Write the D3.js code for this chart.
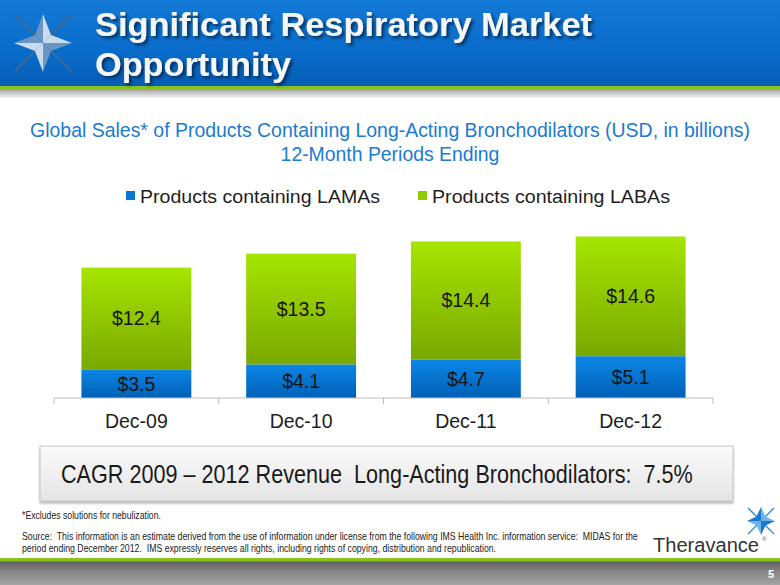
<!DOCTYPE html>
<html>
<head>
<meta charset="utf-8">
<script src="https://cdn.jsdelivr.net/npm/d3@7"></script>
<style>
  html, body { margin: 0; padding: 0; background: #fff; }
  svg { display: block; font-family: "Liberation Sans", Arial, sans-serif; }
</style>
</head>
<body>
<svg id="chart" width="780" height="585"></svg>
<script>
// ---- data ----
const categories = ["Dec-09", "Dec-10", "Dec-11", "Dec-12"];
const lamaValues = [3.5, 4.1, 4.7, 5.1];
const labaValues = [12.4, 13.5, 14.4, 14.6];
const seriesNames = ["Products containing LAMAs", "Products containing LABAs"];
const titleLines = ["Significant Respiratory Market", "Opportunity"];
const subtitleLines = ["Global Sales* of Products Containing Long-Acting Bronchodilators (USD, in billions)", "12-Month Periods Ending"];
const cagrText = "CAGR 2009 \u2013 2012 Revenue  Long-Acting Bronchodilators:  7.5%";
const footnote = "*Excludes solutions for nebulization.";
const sourceLines = [
  "Source:  This information is an estimate derived from the use of information under license from the following IMS Health Inc. information service:  MIDAS for the",
  "period ending December 2012.  IMS expressly reserves all rights, including rights of copying, distribution and republication."
];

const svg = d3.select("#chart");
const defs = svg.append("defs");

// fit a text to a target width: shrink the face horizontally (via smaller size + vertical scale)
// when too wide, or stretch slightly with textLength when narrower
function fit(sel, target) {
  sel.each(function (d, i) {
    const node = this;
    const t = typeof target === "function" ? target(d, i) : target;
    if (!t) return;
    const fs = parseFloat(node.getAttribute("font-size"));
    const w = node.getComputedTextLength();
    if (w > t) {
      const nfs = fs * t / w;
      const x0 = parseFloat(node.getAttribute("x")), y0 = parseFloat(node.getAttribute("y"));
      node.setAttribute("font-size", nfs);
      node.setAttribute("x", 0);
      node.setAttribute("y", 0);
      node.setAttribute("transform", `translate(${x0},${y0}) scale(1,${fs / nfs})`);
    } else {
      node.setAttribute("textLength", t);
      node.setAttribute("lengthAdjust", "spacingAndGlyphs");
    }
  });
  return sel;
}

function vGrad(id, stops) {
  const g = defs.append("linearGradient").attr("id", id).attr("x1", 0).attr("y1", 0).attr("x2", 0).attr("y2", 1);
  stops.forEach(([o, c]) => g.append("stop").attr("offset", o).attr("stop-color", c));
}
vGrad("hdr", [[0, "#1379d6"], [0.6, "#0a6cca"], [1, "#055db6"]]);
vGrad("hdrShadow", [[0, "#a0a0a0"], [1, "#ffffff"]]);
vGrad("ftr", [[0, "#5e5e5e"], [0.5, "#8a8a8a"], [1, "#a4a4a4"]]);
vGrad("green", [[0, "#a6e500"], [1, "#7aa800"]]);
vGrad("blue", [[0, "#0c86e6"], [1, "#0060b6"]]);
vGrad("box", [[0, "#fbfbfb"], [1, "#e4e4e4"]]);

const sh = defs.append("filter").attr("id", "tshadow").attr("x", -0.1).attr("y", -0.3).attr("width", 1.2).attr("height", 1.6);
sh.append("feDropShadow").attr("dx", 2.5).attr("dy", 2.5).attr("stdDeviation", 1.6)
  .attr("flood-color", "#00264d").attr("flood-opacity", 0.8);
const bs = defs.append("filter").attr("id", "bshadow").attr("x", -0.05).attr("y", -0.2).attr("width", 1.1).attr("height", 1.5);
bs.append("feDropShadow").attr("dx", 0).attr("dy", 2).attr("stdDeviation", 1.2)
  .attr("flood-color", "#000").attr("flood-opacity", 0.3);

// ---- header ----
svg.append("rect").attr("x", 0).attr("y", 0).attr("width", 780).attr("height", 87).attr("fill", "url(#hdr)");
svg.append("rect").attr("x", 0).attr("y", 89).attr("width", 780).attr("height", 10).attr("fill", "url(#hdrShadow)");
svg.append("rect").attr("x", 0).attr("y", 86).attr("width", 780).attr("height", 3.5).attr("fill", "#8cc21c");

// star logo helper
function star(cx, cy, R, d, lineLen, lineColor, light, dark, lw) {
  const g = svg.append("g");
  [[-1, -1, 1, 1], [1, -1, -1, 1]].forEach(([a, b, c, e]) => {
    g.append("line").attr("x1", cx + a * lineLen).attr("y1", cy + b * lineLen)
      .attr("x2", cx + c * lineLen).attr("y2", cy + e * lineLen)
      .attr("stroke", lineColor).attr("stroke-width", lw);
  });
  const dirs = [[0, -1], [1, 0], [0, 1], [-1, 0]];
  dirs.forEach(([dx, dy], i) => {
    const tip = [cx + dx * R, cy + dy * R];
    const px = -dy, py = dx;
    const diagA = [cx + (dx + px) * d, cy + (dy + py) * d];
    const diagB = [cx + (dx - px) * d, cy + (dy - py) * d];
    g.append("path").attr("d", `M${cx},${cy}L${tip[0]},${tip[1]}L${diagA[0]},${diagA[1]}Z`)
      .attr("fill", i % 2 ? dark : light);
    g.append("path").attr("d", `M${cx},${cy}L${tip[0]},${tip[1]}L${diagB[0]},${diagB[1]}Z`)
      .attr("fill", i % 2 ? light : dark);
  });
  return g;
}
star(43, 43, 29, 8, 28, "#3d6a93", "#c9dcef", "#6b96c4", 2.2);

// title
fit(svg.append("g").attr("filter", "url(#tshadow)")
  .selectAll("text").data(titleLines).join("text")
  .attr("x", 95).attr("y", (d, i) => 36 + i * 40)
  .attr("font-size", 34).attr("font-weight", "bold").attr("fill", "#f4f6f8")
  .text(d => d), (d, i) => i === 0 ? 497 : 196);

// ---- subtitle ----
fit(svg.append("g").selectAll("text").data(subtitleLines).join("text")
  .attr("x", 390).attr("y", (d, i) => 137 + i * 24)
  .attr("text-anchor", "middle").attr("font-size", 19.5).attr("fill", "#1b7bd0")
  .text(d => d), (d, i) => i === 0 ? 720 : 219);

// ---- legend ----
const legendX = [126, 418];
const lg = svg.append("g").selectAll("g").data(seriesNames).join("g")
  .attr("transform", (d, i) => `translate(${legendX[i]},0)`);
lg.append("rect").attr("x", 0).attr("y", 191).attr("width", 9).attr("height", 9)
  .attr("fill", (d, i) => i === 0 ? "#0b74d4" : "#8fcc00");
fit(lg.append("text").attr("x", 14).attr("y", 202.5).attr("font-size", 18).attr("fill", "#1e1e1e")
  .text(d => d), (d, i) => i === 0 ? 240 : 238);

// ---- chart ----
const x = d3.scaleBand().domain(categories).range([54, 713]).paddingInner(0.333).paddingOuter(0.1665);
const y = d3.scaleLinear().domain([0, 20]).range([398, 234]);

const rows = categories.map((c, i) => ({ cat: c, lama: lamaValues[i], laba: labaValues[i] }));
const stack = d3.stack().keys(["lama", "laba"])(rows);
const fills = ["url(#blue)", "url(#green)"];

const layers = svg.append("g").selectAll("g").data(stack).join("g");
layers.selectAll("rect").data((s, si) => s.map(p => ({ p, si }))).join("rect")
  .attr("x", d => x(d.p.data.cat))
  .attr("width", x.bandwidth())
  .attr("y", d => y(d.p[1]))
  .attr("height", d => y(d.p[0]) - y(d.p[1]))
  .attr("fill", d => fills[d.si]);

layers.selectAll("text").data((s, si) => s.map(p => ({ p, si }))).join("text")
  .attr("x", d => x(d.p.data.cat) + x.bandwidth() / 2)
  .attr("y", d => (y(d.p[0]) + y(d.p[1])) / 2 + 7)
  .attr("text-anchor", "middle").attr("font-size", 19.5).attr("fill", "#161616")
  .text(d => "$" + d3.format(".1f")(d.p[1] - d.p[0]));

// axis
const axisG = svg.append("g").attr("transform", "translate(0,398)");
axisG.append("line").attr("x1", 54).attr("x2", 713).attr("y1", 0).attr("y2", 0)
  .attr("stroke", "#bdbdbd").attr("stroke-width", 1);
const boundaries = categories.map(c => x(c) - x.step() * x.paddingInner() / 2)
  .concat([x(categories[categories.length - 1]) + x.bandwidth() + x.step() * x.paddingInner() / 2]);
axisG.selectAll("line.tick").data(boundaries).join("line").attr("class", "tick")
  .attr("x1", d => d).attr("x2", d => d).attr("y1", 0).attr("y2", 6)
  .attr("stroke", "#bdbdbd").attr("stroke-width", 1);
axisG.selectAll("text").data(categories).join("text")
  .attr("x", d => x(d) + x.bandwidth() / 2).attr("y", 30)
  .attr("text-anchor", "middle").attr("font-size", 19.5).attr("fill", "#1e1e1e")
  .text(d => d);

// ---- CAGR box ----
svg.append("rect").attr("x", 40).attr("y", 446).attr("width", 693).attr("height", 55)
  .attr("fill", "url(#box)").attr("stroke", "#c4c4c4").attr("stroke-width", 1)
  .attr("filter", "url(#bshadow)");
fit(svg.append("text").attr("x", 61).attr("y", 483).attr("font-size", 25).attr("fill", "#1a1a1a")
  .style("white-space", "pre")
  .text(cagrText), 632);

// ---- footnotes ----
fit(svg.append("text").attr("x", 22).attr("y", 519).attr("font-size", 10).attr("fill", "#222")
  .text(footnote), 139);
fit(svg.append("g").selectAll("text").data(sourceLines).join("text")
  .attr("x", 22).attr("y", (d, i) => 540 + i * 12).attr("font-size", 10).attr("fill", "#222")
  .style("white-space", "pre")
  .text(d => d), (d, i) => i === 0 ? 617 : 475);

// ---- Theravance logo ----
star(761, 521, 14, 4.5, 13, "#3a8fd6", "#6fb5ec", "#1c78cc", 1.5);
fit(svg.append("text").attr("x", 653).attr("y", 552).attr("font-size", 20).attr("fill", "#333")
  .text("Theravance"), 106);
svg.append("text").attr("x", 762).attr("y", 541).attr("font-size", 6).attr("fill", "#555").text("\u00AE");

// ---- footer ----
svg.append("rect").attr("x", 0).attr("y", 561).attr("width", 780).attr("height", 24).attr("fill", "url(#ftr)");
svg.append("rect").attr("x", 0).attr("y", 558).attr("width", 780).attr("height", 3.5).attr("fill", "#8cc21c");
svg.append("text").attr("x", 771).attr("y", 578).attr("text-anchor", "middle").attr("font-size", 11)
  .attr("font-weight", "bold").attr("fill", "#ffffff").text("5");
</script>
</body>
</html>
